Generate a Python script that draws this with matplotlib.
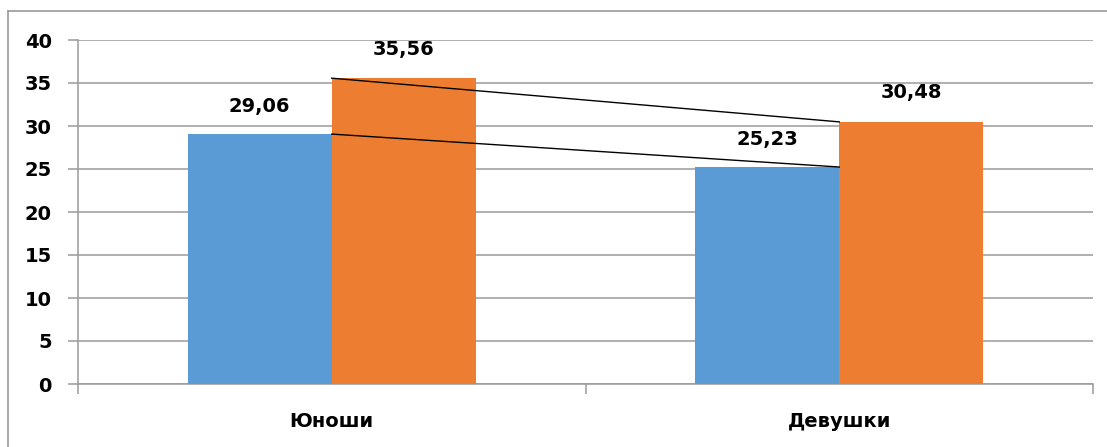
import numpy as np
import matplotlib.pyplot as plt
from matplotlib.lines import Line2D

plt.rcParams['font.family'] = ['DejaVu Sans']

# Данные
categories = ['Юноши', 'Девушки']
series_1 = [29.06, 25.23]
series_2 = [35.56, 30.48]
labels_1 = ['29,06', '25,23']
labels_2 = ['35,56', '30,48']

blue = '#5b9bd5'
orange = '#ed7d31'
grid_col = '#9a9a9a'

fig = plt.figure(figsize=(11.07, 4.47), dpi=100)
ax = fig.add_axes([78 / 1107, 1 - 384 / 447, (1093 - 78) / 1107, (384 - 40) / 447])

x = np.arange(len(categories))
w = 0.284
ax.bar(x - w / 2, series_1, width=w, color=blue, zorder=3)
ax.bar(x + w / 2, series_2, width=w, color=orange, zorder=3)

# линии ряда
ax.plot(x, series_1, color='black', lw=1.0, zorder=4)
ax.plot(x, series_2, color='black', lw=1.0, zorder=4)

for i in range(len(categories)):
    ax.annotate(labels_1[i], (x[i] - w / 2, series_1[i]), xytext=(0, 20),
                textcoords='offset points', ha='center', va='center',
                fontsize=14, fontweight='bold')
    ax.annotate(labels_2[i], (x[i] + w / 2, series_2[i]), xytext=(0, 21),
                textcoords='offset points', ha='center', va='center',
                fontsize=14, fontweight='bold')

ax.set_xlim(-0.5, 1.5)
ax.set_ylim(0, 40)
ax.set_yticks(np.arange(0, 41, 5))
ax.yaxis.grid(True, color=grid_col, lw=1.1, zorder=0)
ax.set_axisbelow(True)

for s in ['top', 'right']:
    ax.spines[s].set_visible(False)
ax.spines['left'].set_color(grid_col)
ax.spines['bottom'].set_color(grid_col)
ax.spines['left'].set_linewidth(1.1)
ax.spines['bottom'].set_linewidth(1.1)

ax.set_xticks([-0.5, 0.5, 1.5])
ax.set_xticklabels([])
ax.set_xticks(x, minor=True)
ax.set_xticklabels(categories, minor=True, fontsize=14, fontweight='bold')
ax.tick_params(axis='x', which='major', length=7, color=grid_col, width=1.1, direction='out')
ax.tick_params(axis='x', which='minor', length=0, pad=20)
ax.tick_params(axis='y', length=7, color=grid_col, width=1.1, pad=12)
for t in ax.get_yticklabels():
    t.set_fontsize(14)
    t.set_fontweight('bold')

# рамка диаграммы
fig.add_artist(Line2D([8 / 1107, 1], [1 - 11 / 447, 1 - 11 / 447], transform=fig.transFigure,
                      color=grid_col, lw=1.2))
fig.add_artist(Line2D([8 / 1107, 8 / 1107], [0, 1 - 11 / 447], transform=fig.transFigure,
                      color=grid_col, lw=1.2))

plt.savefig('out.png', dpi=100)
